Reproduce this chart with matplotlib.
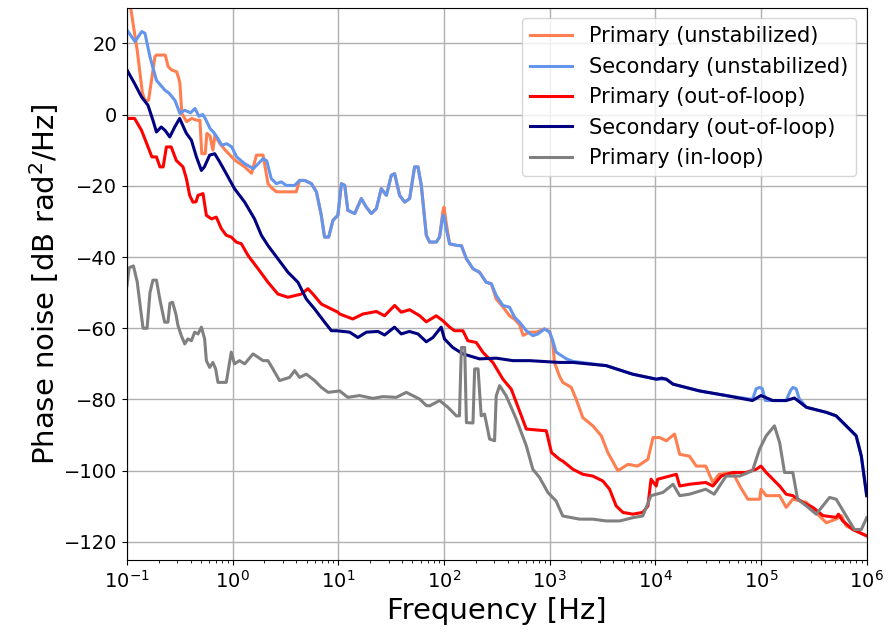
import matplotlib
matplotlib.use("Agg")
import matplotlib.pyplot as plt

# ---------------- data (frequency in Hz, phase noise in dB rad^2/Hz) ----------------
prim_unstab_f = [0.1, 0.107, 0.125, 0.14, 0.148, 0.16, 0.184, 0.19, 0.23, 0.245, 0.265, 0.295,
                 0.31, 0.317, 0.33, 0.367, 0.41, 0.456, 0.49, 0.51, 0.55, 0.57, 0.61, 0.65, 0.68,
                 0.76, 0.85, 1.05, 1.3, 1.51, 1.68, 1.94, 2.16, 2.32, 2.59, 4.0, 4.3, 4.8, 5.56,
                 6.2, 6.9, 7.4, 8.1, 8.9, 9.9, 10.7, 11.5, 12.3, 14.3, 16.5, 18.4, 20.5, 22.9,
                 25.5, 28.5, 31.7, 34.1, 38, 42.4, 47.3, 52.7, 56.7, 61, 68, 73, 84.6, 90.8,
                 97.7, 100, 105, 113, 135, 146, 163, 188, 217, 251, 280, 312, 361, 417, 465,
                 519, 560, 650, 750, 895, 1000, 1070, 1110, 1240, 1330, 1600, 1780, 2060, 2560,
                 3080, 3550, 4420, 5500, 6800, 8500, 9500, 11000, 12700, 15200, 17000, 21000,
                 24400, 30000, 35000, 40000, 54000, 63000, 75000, 97000, 100000, 112000, 150000,
                 173000, 200000, 269000, 330000, 414000, 514000, 577000, 640000, 795000, 1000000]
prim_unstab_db = [34, 31, 18, 6, 3.9, 4, 16.3, 16.7, 16.7, 13.5, 12.5, 12,
                  10, 8.7, 0.3, -2, -1.1, -1.6, -1.6, -11, -11, -5.3, -6, -10, -5.8,
                  -8.2, -10, -12.8, -14.7, -16.5, -11.4, -11.4, -19.4, -20.5, -21.7, -21.7, -18.5, -18.5, -19.4,
                  -21.7, -28.3, -34.4, -34.4, -29.7, -28.3, -19.4, -19.9, -26.9, -27.8, -23.6, -26, -27.8, -26.4,
                  -20.8, -22.7, -17.1, -16.6, -22.7, -24.6, -23.6, -14.7, -14.7, -19.9, -33.9, -35.8, -35.8, -34.4,
                  -27, -26, -30.5, -36.3, -36.8, -36.8, -40.5, -43.3, -44.3, -47.1, -47.5, -51.8, -54, -56.5, -57.5,
                  -59, -62, -61.1, -61.1, -60.2, -61, -64, -69.6, -73.5, -75.2, -76.6, -79.9, -85.1, -87.4,
                  -90.2, -94.9, -100, -98.2, -98.7, -96.8, -90.7, -90.7, -91.6, -89.7, -95.4, -95.9,
                  -98.7, -98.7, -103.3, -101, -100.5, -104.3, -108, -108, -105.2, -107, -107,
                  -110.3, -108, -108.9, -111.7, -114.6, -113.6, -112.6, -115.5, -116.9, -118.3]

sec_unstab_f = [0.1, 0.119, 0.138, 0.148, 0.165, 0.19, 0.229, 0.25, 0.284, 0.317, 0.35, 0.4,
                0.44, 0.48, 0.52, 0.55, 0.61, 0.66, 0.71, 0.79, 0.88, 0.98, 1.09, 1.3, 1.57,
                1.68, 1.94, 2.1, 2.32, 2.59, 2.88, 3.22, 3.86, 4.3, 4.8, 5.56, 6.2, 6.9, 7.4,
                8.1, 8.9, 9.9, 10.7, 11.5, 12.3, 14.3, 16.5, 18.4, 20.5, 22.9, 25.5, 28.5,
                31.7, 34.1, 38, 42.4, 47.3, 52.7, 56.7, 61, 68, 73, 84.6, 90.8, 97.7, 100,
                105, 113, 135, 146, 163, 188, 217, 251, 280, 312, 361, 417, 465, 519, 601,
                693, 773, 895, 1000, 1070, 1150, 1440, 1660, 3430, 6100, 10200, 12700, 14700,
                26200, 46800, 83000, 90000, 97000, 103000, 110000, 129000, 173000, 190000,
                200000, 215000, 230000, 269000, 414000, 514000, 640000, 795000, 890000, 1000000]
sec_unstab_db = [23.7, 20.5, 23.3, 22.8, 16.2, 9.6, 6.8, 6, 4, 0.3, 1.2, 0.5,
                 1.7, -0.5, 0, -1.1, -3.9, -5, -6.3, -8.6, -8.2, -9.1, -11.9, -13.8, -15.2,
                 -14.3, -12.4, -13, -18, -19.4, -18.9, -19.9, -19.9, -18.5, -18.5, -19.4, -21.7, -28.3, -34.4,
                 -34.4, -29.7, -28.3, -19.4, -19.9, -26.9, -27.8, -23.6, -26, -27.8, -26.4, -20.8, -22.7,
                 -17.1, -16.6, -22.7, -24.6, -23.6, -14.7, -14.7, -19.9, -33.9, -35.8, -35.8, -34.4, -28.3, -28.5,
                 -32.1, -36.3, -36.8, -36.8, -40.5, -43.3, -44.3, -47.1, -47.5, -50.8, -53.6, -54.1, -56.9, -58.3, -60.7,
                 -62.1, -61.6, -60.2, -61.1, -63.5, -66.7, -68.6, -69.3, -70.5, -72.9, -74.3, -74.3, -75.7,
                 -77.6, -78.9, -80.0, -77.0, -76.6, -77.0, -80.3, -80.3, -80.3, -77.5,
                 -76.6, -77.0, -79.8, -82.2, -83.6, -84.6, -87.4, -90.2, -95.9, -107]

prim_ool_f = [0.1, 0.118, 0.137, 0.154, 0.172, 0.19, 0.205, 0.22, 0.236, 0.262, 0.293, 0.339,
              0.365, 0.392, 0.421, 0.45, 0.47, 0.524, 0.564, 0.63, 0.70, 0.78, 0.87, 0.97,
              1.08, 1.21, 1.4, 1.74, 2.16, 2.68, 3.34, 4.47, 5.15, 5.75, 6.9, 8.6, 9.9,
              10.3, 13.7, 17.1, 22.9, 27.4, 34.1, 39.4, 47.3, 58.9, 68, 84.5, 97.7, 113,
              126, 151, 168, 202, 234, 290, 361, 433, 483, 601, 929, 1040, 1240, 1330, 1660,
              2060, 2560, 3190, 3690, 4260, 4930, 6130, 7600, 8500, 9100, 10200, 10500, 15800,
              17000, 21000, 30000, 35000, 42000, 54000, 72000, 90000, 100000, 112000, 150000,
              173000, 200000, 249000, 310000, 385000, 514000, 540000, 593000, 740000, 1000000]
prim_ool_db = [-1.1, -1.1, -4.4, -8.2, -11.9, -11.9, -14.7, -14.7, -9.1, -9.1, -12.9, -14.7,
               -18, -22.7, -24.6, -24.5, -22.7, -22.2, -28.3, -29.3, -28.8, -32, -33.9, -34.4,
               -35.8, -36.3, -39.6, -43.3, -47.1, -50.4, -51.3, -50.4, -48.9, -50.4, -53.2, -54.6, -55.5,
               -56, -57.4, -56, -55.3, -56.5, -53.6, -55.5, -54.8, -56.5, -58.2, -56.5, -57.9, -59.7,
               -60.7, -60.7, -63.5, -64, -66.8, -69.6, -74.3, -77.1, -80.8, -88.3, -88.8, -94.9, -96.8, -97.3, -99.6,
               -101, -101.5, -102.9, -105.2, -109.9, -111.7, -112.2, -111.7, -109.9, -102.4, -104.3, -102.4, -101,
               -104.3, -103.8, -103.3, -104.3, -101.5, -100.5, -100.5, -99.6, -98.7, -100.5, -104.3,
               -106.6, -107, -108.9, -110.3, -112.6, -113.1, -112.2, -114.1, -116.5, -118.3]

sec_ool_f = [0.1, 0.118, 0.137, 0.158, 0.176, 0.19, 0.211, 0.23, 0.254, 0.283, 0.315, 0.365,
             0.407, 0.454, 0.506, 0.54, 0.606, 0.676, 0.754, 0.87, 1.04, 1.3, 1.61, 1.87,
             2.16, 2.68, 3.34, 4.15, 4.98, 5.97, 7.42, 8.6, 9.6, 12.8, 15.3, 18.4, 23.7, 27.4,
             34, 39.4, 47, 56.7, 68, 78.6, 94, 101, 121, 151, 217, 312, 449, 646, 1240, 1660,
             3430, 6100, 10200, 11500, 12700, 14700, 26200, 46800, 83000, 100000, 129000,
             173000, 207000, 269000, 414000, 514000, 640000, 795000, 890000, 1000000]
sec_ool_db = [12.5, 8.7, 5, 2.6, -1.6, -4.9, -3.5, -4.5, -6.3, -3.5, -1.1, -5.3,
              -7.2, -11.9, -15.7, -14.7, -11.4, -11, -13.3, -16.6, -20.8, -24.6, -29.3, -33.9,
              -36.8, -40.5, -44.3, -47.1, -51.8, -54.6, -58.3, -60.7, -60.7, -61.1, -62.6, -61.1, -60.9, -61.9,
              -59.7, -61.6, -60.9, -61.6, -63.8, -62.6, -59.7, -63, -65.4, -67.2, -68.6, -68.4, -69.1, -69.1, -69.6, -69.6,
              -70.5, -72.9, -74.3, -74.0, -74.3, -75.7, -77.6, -78.9, -80.3, -78.9, -80.3,
              -80.3, -79.6, -82.2, -83.6, -84.6, -87.4, -90.2, -95.9, -107]

prim_il_f = [0.1, 0.105, 0.115, 0.125, 0.135, 0.142, 0.155, 0.165, 0.176, 0.19, 0.205, 0.227,
             0.244, 0.255, 0.27, 0.29, 0.304, 0.327, 0.352, 0.377, 0.407, 0.437, 0.47, 0.506,
             0.543, 0.564, 0.606, 0.65, 0.69, 0.726, 0.78, 0.87, 0.97, 1.04, 1.16, 1.3, 1.56,
             1.94, 2.16, 2.4, 2.78, 3.46, 3.86, 4.3, 4.98, 5.97, 6.9, 8, 10.3, 12.3, 15.9,
             21.2, 26.4, 35.4, 44, 58.9, 68, 73, 90.8, 109, 131, 140, 146, 157, 163, 188,
             195, 210, 225, 242, 270, 301, 312, 336, 388, 483, 601, 693, 802, 961, 1150, 1330,
             1920, 2560, 3430, 4600, 6100, 7600, 9100, 11800, 14700, 17000, 21000, 30000,
             36000, 46800, 63000, 83000, 97000, 112000, 134000, 150000, 167000, 200000,
             222000, 269000, 333000, 445000, 514000, 640000, 765000, 890000, 1000000]
prim_il_db = [-48, -43, -42.5, -47, -55, -60, -60, -50, -46.5, -46.5, -52, -58.3,
              -58.3, -53, -52.7, -56, -59.3, -62.1, -64.4, -63, -63.5, -61.1, -61.6, -59.7,
              -63, -69.1, -71, -69.6, -71.4, -75.2, -75.2, -75.2, -66.7, -70, -69.1, -70, -67.2,
              -69.1, -69.1, -71.4, -74.7, -73.8, -71.9, -73.8, -72.9, -74.7, -76.6, -78, -77.6, -79.4, -78.9,
              -79.7, -79.2, -79.4, -78, -79.9, -81.7, -81.8, -80.3, -82.2, -84.6, -84.6, -65.4, -65.4, -86.5, -86.6,
              -71.4, -71.4, -84.6, -84.1, -91.1, -91.6, -79, -76.1, -79, -85.5, -93, -99.6, -101.9, -106.1, -108.5, -112.7,
              -113.6, -113.6, -114.1, -114.1, -113.2, -112.7, -107, -106.1, -103.8, -107, -106.6, -105.2,
              -106.6, -101.5, -101.5, -100, -93.9, -90.2, -87.4, -92.1, -100.5, -100.5,
              -108, -109.9, -112.2, -107.5, -108, -112.7, -116.5, -116.5, -113.2]

series = [
    ("Primary (unstabilized)", prim_unstab_f, prim_unstab_db, "coral"),
    ("Secondary (unstabilized)", sec_unstab_f, sec_unstab_db, "cornflowerblue"),
    ("Primary (out-of-loop)", prim_ool_f, prim_ool_db, "red"),
    ("Secondary (out-of-loop)", sec_ool_f, sec_ool_db, "navy"),
    ("Primary (in-loop)", prim_il_f, prim_il_db, "grey"),
]

fig = plt.figure(figsize=(8.88, 6.39), dpi=100)
ax = fig.add_axes([0.143, 0.124, 0.833, 0.864])

for label, f, db, color in series:
    ax.plot(f, db, color=color, lw=2.2, label=label)

ax.set_xscale("log")
ax.set_xlim(0.1, 1e6)
ax.set_ylim(-125, 30)
ax.set_yticks([-120, -100, -80, -60, -40, -20, 0, 20])
ax.grid(True, which="major", color="#b0b0b0", lw=1)
ax.tick_params(axis="both", which="major", labelsize=14)
ax.set_xlabel("Frequency [Hz]", fontsize=21)
ax.set_ylabel("Phase noise [dB rad$^2$/Hz]", fontsize=21, labelpad=2)
ax.legend(loc="upper right", fontsize=15)

fig.savefig("out.png", dpi=100)
